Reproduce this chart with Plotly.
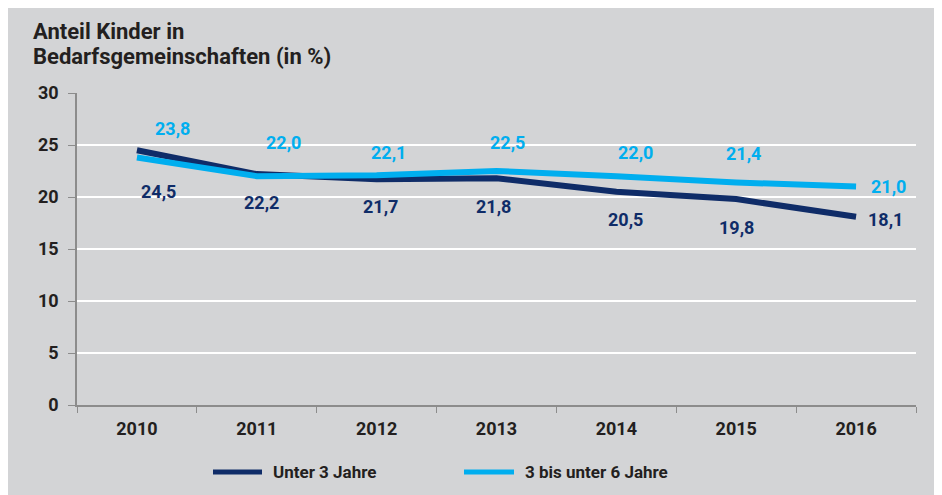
import plotly.graph_objects as go

years = ["2010", "2011", "2012", "2013", "2014", "2015", "2016"]
unter3 = [24.5, 22.2, 21.7, 21.8, 20.5, 19.8, 18.1]
bis6 = [23.8, 22.0, 22.1, 22.5, 22.0, 21.4, 21.0]
unter3_labels = ["24,5", "22,2", "21,7", "21,8", "20,5", "19,8", "18,1"]
bis6_labels = ["23,8", "22,0", "22,1", "22,5", "22,0", "21,4", "21,0"]
series_names = ["Unter 3 Jahre", "3 bis unter 6 Jahre"]
title_lines = ["Anteil Kinder in", "Bedarfsgemeinschaften (in %)"]

# label offsets in pixels (styling only)
unter3_dx = [22, 5, 4, -3, 9, 0, 29]
unter3_dy = [-41, -28, -27, -28, -28, -28, -3]
bis6_dx = [36, 27, 12, 11, 19, 7, 32]
bis6_dy = [29, 34, 23, 29, 24, 29, 0]

DARK = "#0f2c68"
LIGHT = "#00aeef"
GRAY_BG = "#d3d4d6"
TXT = "#231f20"
FONT = "Roboto"

fig = go.Figure()
fig.add_trace(go.Scatter(x=years, y=unter3, mode="lines", name=series_names[0],
                         line=dict(color=DARK, width=6), showlegend=False))
fig.add_trace(go.Scatter(x=years, y=bis6, mode="lines", name=series_names[1],
                         line=dict(color=LIGHT, width=6), showlegend=False))

annotations = []
for i, yr in enumerate(years):
    annotations.append(dict(x=i, y=unter3[i], xref="x", yref="y", text=unter3_labels[i],
                            showarrow=False, xshift=unter3_dx[i], yshift=unter3_dy[i],
                            font=dict(family=FONT, size=18, color=DARK, weight="bold")))
    annotations.append(dict(x=i, y=bis6[i], xref="x", yref="y", text=bis6_labels[i],
                            showarrow=False, xshift=bis6_dx[i], yshift=bis6_dy[i],
                            font=dict(family=FONT, size=18, color=LIGHT, weight="bold")))

# plot area geometry in page pixels: x 77..916, y 93..405 (page has 8px body offset)
W, H = 839.0, 312.0
def px(x):
    return (x - 77) / W
def py(y):
    return (405 - y) / H

shapes = [
    dict(type="line", xref="paper", yref="paper", x0=px(213), x1=px(262), y0=py(472), y1=py(472),
         line=dict(color=DARK, width=5)),
    dict(type="line", xref="paper", yref="paper", x0=px(464), x1=px(514), y0=py(472), y1=py(472),
         line=dict(color=LIGHT, width=5)),
]
annotations.append(dict(xref="paper", yref="paper", x=px(271), y=py(472), xanchor="left",
                        yanchor="middle", text=series_names[0], showarrow=False,
                        font=dict(family=FONT, size=17, color=TXT, weight="bold")))
annotations.append(dict(xref="paper", yref="paper", x=px(523), y=py(472), xanchor="left",
                        yanchor="middle", text=series_names[1], showarrow=False,
                        font=dict(family=FONT, size=17, color=TXT, weight="bold")))
for line_text, cy in zip(title_lines, [31, 57]):
    annotations.append(dict(xref="paper", yref="paper", x=px(31), y=py(cy), xanchor="left",
                            yanchor="middle", text=line_text, showarrow=False,
                            font=dict(family=FONT, size=22, color=TXT, weight="bold")))

fig.update_layout(
    width=942, height=495,
    margin=dict(l=69, r=34, t=85, b=98),
    paper_bgcolor=GRAY_BG,
    plot_bgcolor=GRAY_BG,
    shapes=shapes,
    annotations=annotations,
    xaxis=dict(type="category", range=[-0.5, 6.5], tickson="boundaries",
               showgrid=False, showline=True, linecolor="#8c8c8c", linewidth=1.5,
               ticks="outside", ticklen=6, tickcolor="#8c8c8c", tickwidth=1.2,
               ticklabelstandoff=7,
               tickfont=dict(family=FONT, size=18, color=TXT, weight="bold")),
    yaxis=dict(range=[0, 30], tickvals=[0, 5, 10, 15, 20, 25, 30],
               showgrid=True, gridcolor="white", gridwidth=1.5, zeroline=False,
               showline=True, linecolor="#8c8c8c", linewidth=1.5,
               ticks="outside", ticklen=7, tickcolor="#8c8c8c", tickwidth=1.2,
               ticklabelstandoff=6,
               tickfont=dict(family=FONT, size=18, color=TXT, weight="bold")),
)

fig.write_html("out.html")
